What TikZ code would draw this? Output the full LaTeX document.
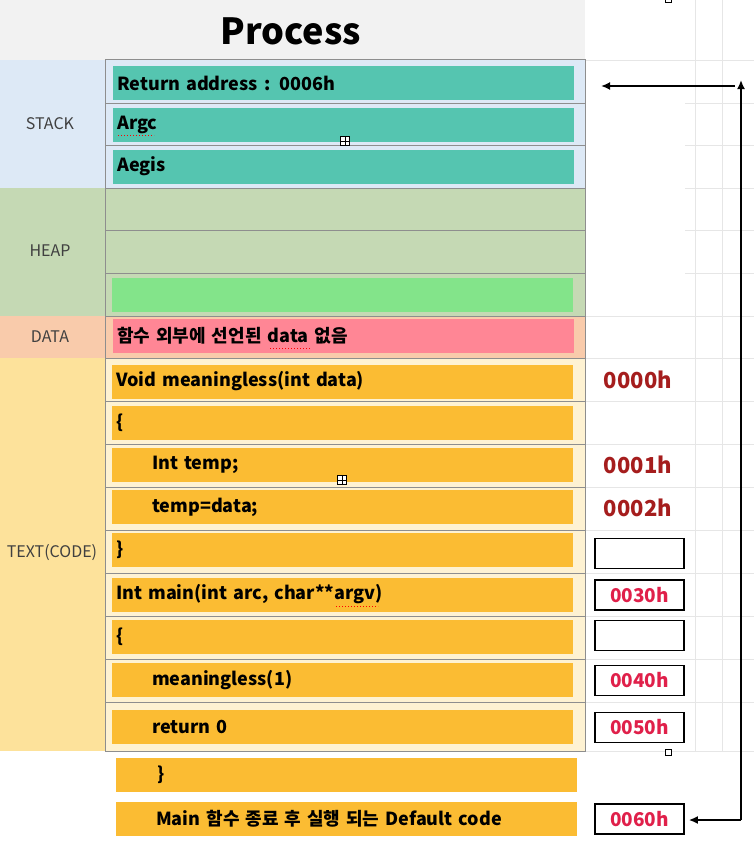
\documentclass[tikz,border=0pt]{standalone}
\usepackage{fontspec}
\setmainfont{Noto Sans CJK KR}
\usetikzlibrary{arrows.meta}

\definecolor{headbg}{HTML}{F2F2F2}
\definecolor{stackbg}{HTML}{DDE9F6}
\definecolor{heapbg}{HTML}{C5D9B4}
\definecolor{databg}{HTML}{F9CBAB}
\definecolor{textbg}{HTML}{FDE29B}
\definecolor{cellbg}{HTML}{FEF2D2}
\definecolor{stackfill}{HTML}{55C5B0}
\definecolor{heapfill}{HTML}{83E48A}
\definecolor{datafill}{HTML}{FF8695}
\definecolor{codefill}{HTML}{FBBC33}
\definecolor{addrdark}{HTML}{A51D1D}
\definecolor{addrred}{HTML}{E0204A}
\definecolor{gridfaint}{HTML}{E6E6E6}
\definecolor{rowline}{HTML}{8E8E8E}

\begin{document}
\begin{tikzpicture}[x=1pt,y=-1pt,
  rowbox/.style={anchor=west, minimum height=34pt, text width=453pt, inner xsep=4pt, inner ysep=0pt, align=left, font=\bfseries\fontsize{18}{18}\selectfont},
  seglabel/.style={font=\fontsize{16}{16}\selectfont, text=black!75},
  addr/.style={font=\bfseries\fontsize{22}{22}\selectfont, text=addrdark},
  addrbox/.style={draw=black, line width=1.6pt, fill=white, minimum width=89pt, minimum height=30pt, inner sep=0pt, font=\bfseries\fontsize{19}{19}\selectfont, text=addrred},
  arr/.style={line width=1.8pt, -{Latex[length=9pt,width=8pt]}},
  squiggle/.style={red, line width=1pt, dotted},
  handle/.style={draw=black, fill=white, line width=0.6pt, minimum size=9pt, inner sep=0pt}]
\useasboundingbox (0,0) rectangle (754,851);

% bands
\fill[headbg] (0,0) rectangle (585,60);
\fill[stackbg] (0,60) rectangle (585,188);
\fill[heapbg] (0,188) rectangle (585,316);
\fill[databg] (0,316) rectangle (585,358);
\fill[textbg] (0,358) rectangle (105,751);
\fill[cellbg] (105,358) rectangle (585,751);

% faint grid on the right
\foreach \y in {60,316,358,401,444,487,530,573,616,659,702,751}
  \draw[gridfaint] (585,\y) -- (754,\y);
\foreach \y in {103,145,188,230,273}
  \draw[gridfaint] (685,\y) -- (754,\y);
\foreach \x in {695,722}
  \draw[gridfaint] (\x,0) -- (\x,751);

% rows
\foreach \y in {103,145,188,230,273,316,358,401,444,487,530,573,616,659,702}
  \draw[rowline] (105,\y) -- (585,\y);
\draw[rowline, line width=1pt] (105,60) rectangle (585,751);

\node[font=\bfseries\fontsize{36}{36}\selectfont] (title) at (291,31) {Process};

\node[seglabel] (lstack) at (50,124) {STACK};
\node[seglabel] (lheap) at (50,251) {HEAP};
\node[seglabel] (ldata) at (50,337) {DATA};
\node[seglabel] (ltext) at (52,553) {TEXT(CODE)};

% stack
\node[rowbox, fill=stackfill] (ret) at (113,83) {Return address : 0006h};
\node[rowbox, fill=stackfill] (argc) at (113,124.5) {Argc};
\node[rowbox, fill=stackfill] (aegis) at (113,166.5) {Aegis};

% heap, data
\node[rowbox, fill=heapfill] (heap) at (112,295) {};
\node[rowbox, fill=datafill] (data) at (113,336) {함수 외부에 선언된 data 없음};

% code
\node[rowbox, fill=codefill] (c1) at (112,381.5) {Void meaningless(int data)};
\node[rowbox, fill=codefill] (c2) at (112,423) {\{};
\node[rowbox, fill=codefill] (c3) at (112,465) {\hspace*{36pt}Int temp;};
\node[rowbox, fill=codefill] (c4) at (112,507) {\hspace*{36pt}temp=data;};
\node[rowbox, fill=codefill] (c5) at (112,550) {\}};
\node[rowbox, fill=codefill] (c6) at (112,594.5) {Int main(int arc, char**argv)};
\node[rowbox, fill=codefill] (c7) at (112,636.5) {\{};
\node[rowbox, fill=codefill] (c8) at (112,680) {\hspace*{36pt}meaningless(1)};
\node[rowbox, fill=codefill] (c9) at (112,727) {\hspace*{36pt}return 0};
\node[rowbox, fill=codefill] (c10) at (116,775) {\hspace*{37pt}\}};
\node[rowbox, fill=codefill] (c11) at (116,819) {\hspace*{36pt}Main 함수 종료 후 실행 되는 Default code};

% addresses
\node[addr] (a00) at (638,380) {0000h};
\node[addr] (a01) at (638,465) {0001h};
\node[addr] (a02) at (638,508) {0002h};
\node[addrbox] (b1) at (639.5,553.5) {};
\node[addrbox] (a30) at (639.5,595) {0030h};
\node[addrbox] (b2) at (639.5,635.5) {};
\node[addrbox] (a40) at (639.5,680.5) {0040h};
\node[addrbox] (a50) at (639.5,727.5) {0050h};
\node[addrbox] (a60) at (639.5,819) {0060h};

% spell marks
\draw[squiggle] (118,135) -- (154,135);
\draw[squiggle] (270,348) -- (311,348);
\draw[squiggle] (336,606) -- (378,606);

% handles
\node[handle] (h1) at (345,141) {};
\draw[line width=0.5pt] (h1.west) -- (h1.east) (h1.north) -- (h1.south);
\node[handle] (h2) at (342,480) {};
\draw[line width=0.5pt] (h2.west) -- (h2.east) (h2.north) -- (h2.south);
\node[handle, minimum size=6pt] (h3) at (668,752) {};
\node[handle, minimum size=6pt] (h4) at (668,-1) {};

% arrows
\coordinate (bend) at (741,820);
\coordinate (top) at (741,80);
\coordinate (topl) at (735,86);
\coordinate (retend) at (601,86);
\draw[arr] (bend) -- (top);
\draw[arr] (topl) -- (retend);
\draw[arr, shorten >=4pt] (bend) -- (a60.east |- bend);
\end{tikzpicture}
\end{document}
